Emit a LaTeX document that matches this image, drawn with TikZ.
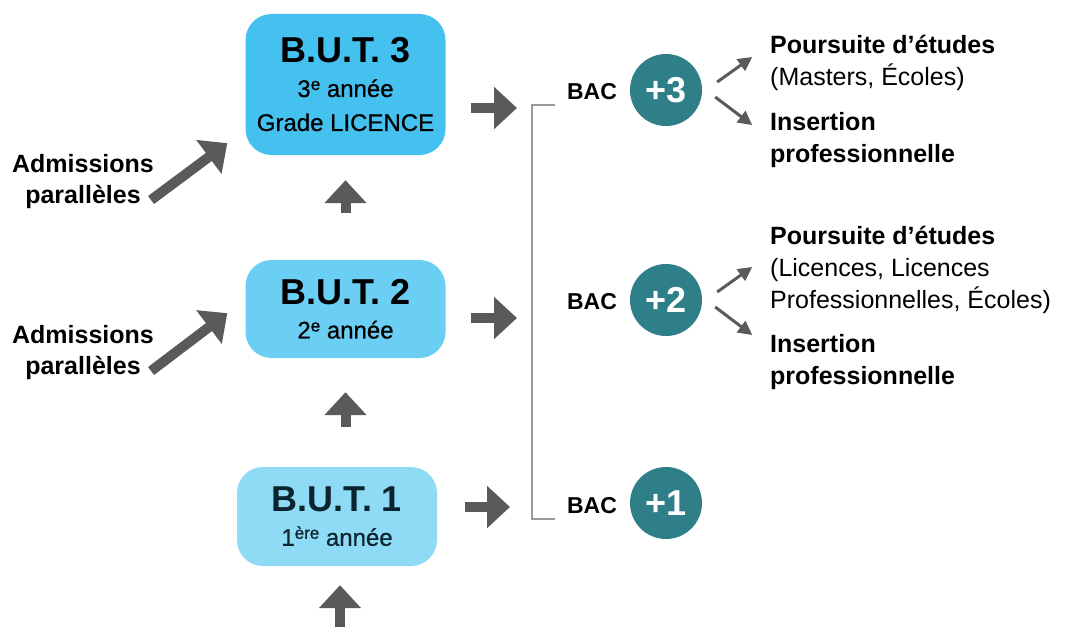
\documentclass[tikz,border=0pt]{standalone}
\usepackage{fontspec}
\setmainfont{Liberation Sans}
\newfontfamily\medfont{Liberation Sans}[FakeBold=0.7]
\usetikzlibrary{arrows.meta}
\definecolor{butthree}{HTML}{45C1F0}
\definecolor{buttwo}{HTML}{6BCEF3}
\definecolor{butone}{HTML}{8FDAF5}
\definecolor{butonetext}{HTML}{0B2530}
\definecolor{bacteal}{HTML}{2E7F87}
\definecolor{arrowgray}{HTML}{5A5A5A}
\definecolor{bracketgray}{HTML}{9A9A9A}
\newcommand\exposant[1]{\raisebox{7pt}{\fontsize{17}{17}\selectfont #1}}
\tikzset{
  butbox/.style={rounded corners=26pt, minimum width=200pt, align=center, inner sep=0pt,
    font=\medfont\fontsize{24}{34}\selectfont},
  blockarrow/.style={draw=arrowgray, line width=10pt, -{Triangle[width=41pt,length=23pt]}},
  thinarrow/.style={draw=arrowgray, line width=3pt, -{Triangle[width=14pt,length=14pt]}},
  bac/.style={inner sep=0pt, font=\fontsize{23}{26}\selectfont\bfseries},
  bacnum/.style={circle, fill=bacteal, text=white, minimum size=72pt, inner sep=0pt,
    font=\fontsize{36}{40}\selectfont\bfseries},
  admission/.style={align=center, inner sep=0pt, font=\fontsize{25}{31}\selectfont\bfseries},
  outcome/.style={align=left, anchor=west, inner sep=0pt, font=\fontsize{25}{32}\selectfont},
  bracket/.style={draw=bracketgray, line width=1.5pt}
}
\begin{document}
\begin{tikzpicture}[x=1pt, y=-1pt]
  \useasboundingbox (0,0) rectangle (1070,626);
  % the three years
  \node[butbox, fill=butthree, minimum height=141pt] (but3) at (345.5,84.5)
    {{\normalfont\fontsize{36}{34}\selectfont\bfseries B.U.T. 3}\\3\exposant{e} année\\Grade LICENCE};
  \node[butbox, fill=buttwo, minimum height=98pt] (but2) at (345.5,309)
    {{\normalfont\fontsize{36}{34}\selectfont\bfseries B.U.T. 2}\\2\exposant{e} année};
  \node[butbox, fill=butone, text=butonetext, minimum height=99pt] (but1) at (337,516.5)
    {{\normalfont\fontsize{36}{34}\selectfont\bfseries B.U.T. 1}\\1\exposant{ère} année};
  % going up
  \coordinate (entry) at (340,650);
  \draw[blockarrow, shorten >=19pt] (entry) -- (entry |- but1.south);
  \draw[blockarrow, shorten <=40pt, shorten >=34pt] (but2.south |- but1.north) -- (but2.south);
  \draw[blockarrow, shorten <=47pt, shorten >=25pt] (but2.north) -- (but3.south);
  % admissions paralleles
  \node[admission] (adm3) at (83,182) {Admissions\\parallèles};
  \node[admission] (adm2) at (83,353) {Admissions\\parallèles};
  \draw[blockarrow] ([shift={(-3,18)}]adm3.east) -- ([shift={(-18,-12)}]but3.south west);
  \draw[blockarrow] ([shift={(-3,18)}]adm2.east) -- ([shift={(-18,-45)}]but2.south west);
  % bac levels
  \coordinate (in3) at (517,108);
  \coordinate (in2) at (517,318);
  \coordinate (in1) at (510,507);
  \draw[blockarrow, shorten <=25pt] (but3.east |- in3) -- (in3);
  \draw[blockarrow, shorten <=25pt] (but2.east |- in2) -- (in2);
  \draw[blockarrow, shorten <=28pt] (but1.east |- in1) -- (in1);
  \coordinate (brtop) at (555,105);
  \coordinate (brbot) at (555,519);
  \draw[bracket] (brtop) -- ++(-23,0) |- (brbot);
  \node[bac] (bac3) at (592,92) {BAC};
  \node[bac] (bac2) at (592,302) {BAC};
  \node[bac] (bac1) at (592,506) {BAC};
  \node[bacnum] (num3) at (666,90) {+3};
  \node[bacnum] (num2) at (666,300) {+2};
  \node[bacnum] (num1) at (666,503) {+1};
  % after the B.U.T.
  \node[outcome] (pours3) at (770,63) {{\bfseries Poursuite d’études}\\(Masters, Écoles)};
  \node[outcome] (ins3) at (770,140) {{\bfseries Insertion}\\{\bfseries professionnelle}};
  \node[outcome] (pours2) at (770,270) {{\bfseries Poursuite d'études}\\(Licences, Licences\\Professionnelles, Écoles)};
  \node[outcome] (ins2) at (770,362) {{\bfseries Insertion}\\{\bfseries professionnelle}};
  \draw[thinarrow] ([shift={(15,-8)}]num3.east) -- ++(35,-25);
  \draw[thinarrow] ([shift={(13,7)}]num3.east) -- ++(37,28);
  \draw[thinarrow] ([shift={(15,-8)}]num2.east) -- ++(35,-25);
  \draw[thinarrow] ([shift={(13,7)}]num2.east) -- ++(37,28);
\end{tikzpicture}
\end{document}
